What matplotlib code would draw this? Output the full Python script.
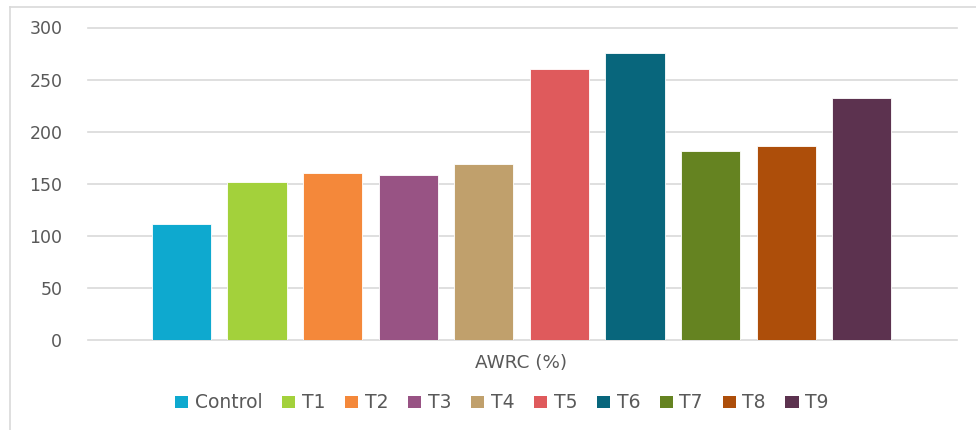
import matplotlib
matplotlib.use("Agg")
import matplotlib.pyplot as plt
from matplotlib.patches import Patch
from matplotlib.lines import Line2D

categories = ["Control", "T1", "T2", "T3", "T4", "T5", "T6", "T7", "T8", "T9"]
awrc_values = [111, 152, 160, 158, 169, 260, 276, 181, 186, 232]
bar_colors = ["#0EA9CF", "#A3D13B", "#F4883A", "#985384", "#C0A06C",
              "#DF5A5C", "#08667C", "#658321", "#AD4E0A", "#5C324F"]
y_ticks = [0, 50, 100, 150, 200, 250, 300]
x_label = "AWRC (%)"

W, H = 976, 430
fig = plt.figure(figsize=(W / 100, H / 100), dpi=100)
fig.patch.set_facecolor("white")

# chart frame (light gray border)
fig.add_artist(Line2D([9.5 / W, 9.5 / W], [0, 1 - 6.5 / H], transform=fig.transFigure,
                      color="#d9d9d9", lw=1.2))
fig.add_artist(Line2D([9.5 / W, 1], [1 - 6.5 / H, 1 - 6.5 / H], transform=fig.transFigure,
                      color="#d9d9d9", lw=1.2))

left, right = 88, 957
top, bottom = 27.5, 340
ax = fig.add_axes([left / W, (H - bottom) / H, (right - left) / W, (bottom - top) / H])
ax.set_facecolor("white")

n = len(categories)
xs = list(range(n))
ax.bar(xs, awrc_values, width=0.785, color=bar_colors, edgecolor="white",
       linewidth=0.6, zorder=3)

ax.set_ylim(0, 300)
ax.set_xlim(-1.235, n - 1 + 1.259)
ax.set_yticks(y_ticks)
ax.set_yticklabels([str(t) for t in y_ticks])
ax.yaxis.grid(True, color="#d9d9d9", linewidth=1.2, zorder=0)
for gl in ax.get_ygridlines():
    gl.set_clip_on(False)
ax.set_xticks([])
for s in ax.spines.values():
    s.set_visible(False)
ax.tick_params(axis="y", length=0, pad=18.5, labelsize=12.5, labelcolor="#595959")
for lab in ax.get_yticklabels():
    lab.set_horizontalalignment("right")

fig.text(521 / W, (H - 362.5) / H, x_label, ha="center", va="center",
         fontsize=13.2, color="#595959")

handles = [Patch(facecolor=c, edgecolor="none") for c in bar_colors]
fig.legend(handles, categories, loc="center", bbox_to_anchor=(502 / W, (H - 403) / H),
           ncol=n, frameon=False, fontsize=13.5, labelcolor="#595959",
           handlelength=0.7, handleheight=0.6, handletextpad=0.35,
           columnspacing=1.05, borderpad=0, borderaxespad=0)

fig.savefig("out.png", dpi=100, facecolor="white")
